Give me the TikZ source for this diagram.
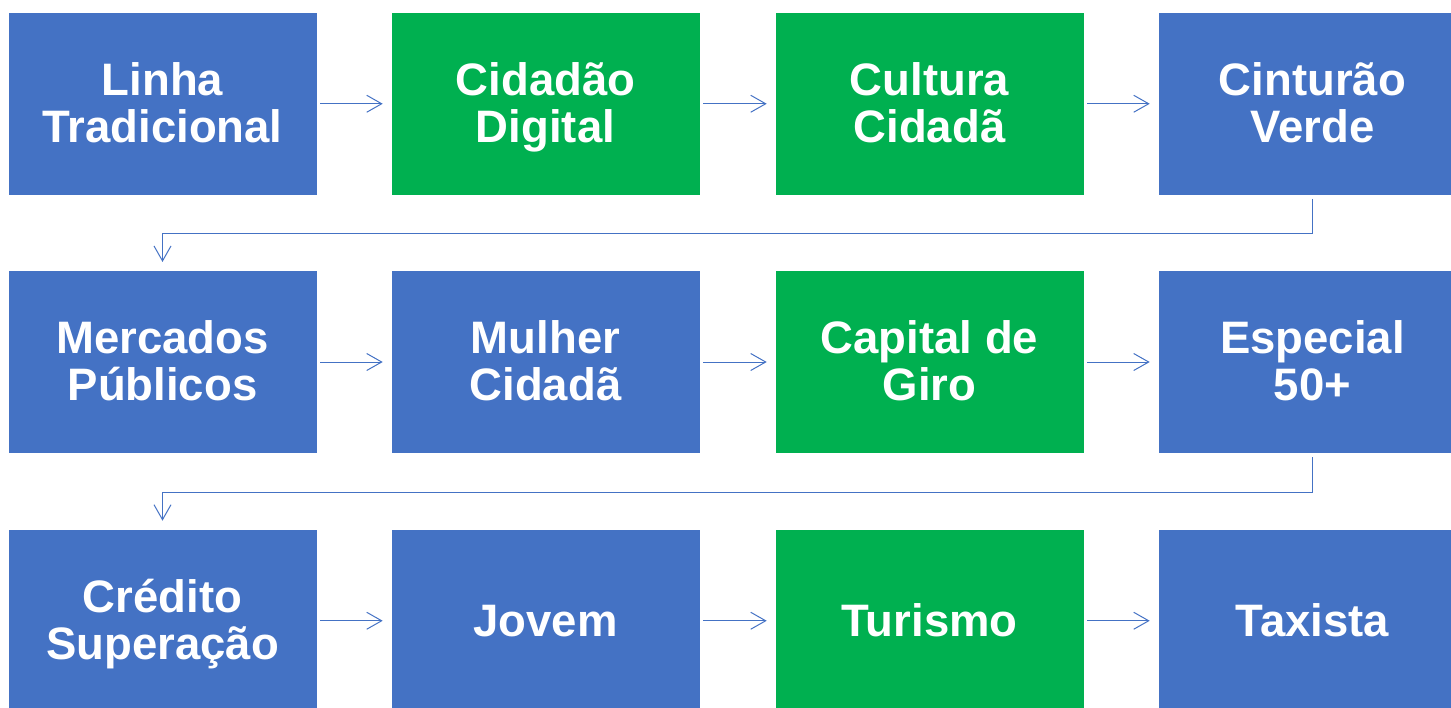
\documentclass[tikz,border=0pt]{standalone}
\usepackage{fontspec}
\setmainfont{Liberation Sans}
\usetikzlibrary{arrows.meta}
\definecolor{cblue}{HTML}{4472C4}
\definecolor{cgreen}{HTML}{00B050}
\begin{document}
\begin{tikzpicture}[x=1pt,y=-1pt,
  box/.style={minimum width=309pt, minimum height=183.5pt, inner sep=0pt, align=center, text=white, font=\fontsize{45.5}{47}\selectfont\bfseries, text height=86.5pt, text depth=10pt, draw=white, line width=0.6pt},
  oneline/.style={text height=42pt, text depth=10pt},
  bluebox/.style={box, fill=cblue},
  greenbox/.style={box, fill=cgreen},
  conn/.style={draw=cblue, line width=1pt, -{Straight Barb[length=15pt,width=17pt]}, shorten <=3pt, shorten >=8pt}]
\useasboundingbox (0,0) rectangle (1451,707);
\clip (0,0) rectangle (1451,707);
% row 1
\node[bluebox]  (n1)  at (162.5,103.75) {Linha\\Tradicional};
\node[greenbox] (n2)  at (545.5,103.75) {Cidadão\\Digital};
\node[greenbox] (n3)  at (929.5,103.75) {Cultura\\Cidadã};
\node[bluebox]  (n4)  at (1312.5,103.75) {Cinturão\\Verde};
% row 2
\node[bluebox]  (n5)  at (162.5,362) {Mercados\\Públicos};
\node[bluebox]  (n6)  at (545.5,362) {Mulher\\Cidadã};
\node[greenbox] (n7)  at (929.5,362) {Capital de\\Giro};
\node[bluebox]  (n8)  at (1312.5,362) {Especial\\50+};
% row 3
\node[bluebox]  (n9)  at (162.5,620.75) {Crédito\\Superação};
\node[bluebox,oneline]  (n10) at (545.5,620.75) {Jovem};
\node[greenbox,oneline] (n11) at (929.5,620.75) {Turismo};
\node[bluebox,oneline]  (n12) at (1312.5,620.75) {Taxista};
% connectors
\draw[conn] (n1) -- (n2);
\draw[conn] (n2) -- (n3);
\draw[conn] (n3) -- (n4);
\draw[conn] (n4.south) -- ++(0,38) -| (n5.north);
\draw[conn] (n5) -- (n6);
\draw[conn] (n6) -- (n7);
\draw[conn] (n7) -- (n8);
\draw[conn] (n8.south) -- ++(0,38) -| (n9.north);
\draw[conn] (n9) -- (n10);
\draw[conn] (n10) -- (n11);
\draw[conn] (n11) -- (n12);
\end{tikzpicture}
\end{document}
